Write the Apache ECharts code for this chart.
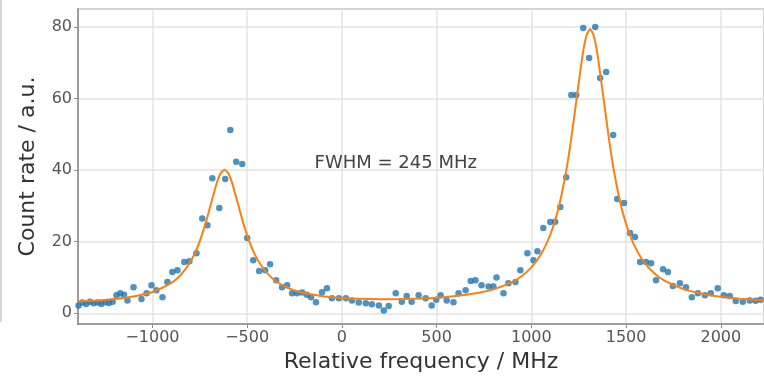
<!DOCTYPE html>
<html>
<head>
<meta charset="utf-8">
<script src="https://cdn.jsdelivr.net/npm/echarts@6/dist/echarts.min.js"></script>
<style>
html,body{margin:0;padding:0;background:#fff;}
#c{width:764px;height:379px;}
</style>
</head>
<body>
<div id="c"></div>
<script>
// measured data (MHz, a.u.)
var freqs = [-1390,-1370,-1350,-1330,-1310,-1290,-1270,-1250,-1230,-1210,-1190,-1170,-1150,-1132,-1100,-1058,-1031,-1005,-979,-947,-921,-895,-868,-832,-805,-768,-737,-710,-684,-647,-616,-589,-558,-526,-500,-468,-437,-405,-379,-347,-316,-289,-263,-237,-210,-185,-163,-137,-105,-79,-53,-16,21,53,89,126,158,195,221,247,284,316,342,368,405,442,474,498,521,553,589,616,653,680,705,737,774,800,816,853,879,916,942,979,1011,1032,1063,1100,1126,1153,1184,1211,1237,1274,1305,1337,1363,1395,1432,1453,1489,1521,1547,1574,1605,1632,1658,1695,1721,1747,1784,1816,1847,1879,1916,1947,1984,2016,2047,2079,2116,2153,2184,2210];
var counts = [2.2,3.0,2.6,3.2,2.8,3.0,2.6,3.1,2.9,3.2,5.0,5.6,5.2,3.6,7.3,4.0,5.6,7.8,6.4,4.5,8.7,11.5,12.0,14.3,14.5,16.8,26.5,24.6,37.7,29.4,37.5,51.2,42.3,41.7,21.0,14.8,11.8,12.0,13.7,9.2,7.3,7.8,5.6,5.6,5.8,5.2,4.5,3.1,5.9,7.0,4.2,4.2,4.2,3.6,3.0,2.8,2.5,2.2,0.8,2.0,5.6,3.2,4.8,3.2,5.0,4.2,2.2,3.8,5.0,3.6,3.1,5.6,6.4,9.0,9.2,7.8,7.5,7.5,10.0,5.6,8.4,8.7,12.0,16.8,14.8,17.3,23.8,25.5,25.6,29.7,38.0,61.0,61.0,79.7,71.3,80.0,65.7,67.4,49.8,31.9,30.8,22.4,21.3,14.3,14.3,14.0,9.2,12.3,11.5,7.6,8.4,7.3,4.5,5.6,5.0,5.6,7.0,5.0,4.8,3.4,3.2,3.6,3.5,3.8];
// fitted curve
var fitFreqs = [-1400,-1300,-1200,-1100,-1000,-900,-850,-800,-760,-720,-690,-660,-640,-620,-600,-580,-550,-520,-490,-460,-420,-380,-340,-300,-250,-200,-100,0,100,200,300,400,500,600,700,800,900,950,1000,1050,1100,1140,1180,1210,1240,1270,1290,1310,1330,1350,1380,1410,1440,1480,1520,1560,1600,1650,1700,1800,1900,2000,2100,2230];
var fitCounts = [3.26,3.55,3.99,4.70,5.95,8.47,10.75,14.36,18.76,25.04,30.82,36.46,39.1,40.1,39.13,36.49,30.85,25.09,20.22,16.45,12.84,10.37,8.66,7.45,6.38,5.65,4.75,4.27,4.03,3.94,3.96,4.09,4.34,4.8,5.5,6.68,8.75,10.4,12.8,16.4,21.93,28.7,38.6,48.6,60.4,72.0,77.4,79.4,77.4,72.0,60.4,48.6,38.55,28.64,21.87,17.22,13.96,11.14,9.2,6.8,5.45,4.62,4.07,3.6];
var annotText = 'FWHM = 245 MHz';
var annotAt = [-144, 42];

var chart = echarts.init(document.getElementById('c'), null, {renderer: 'canvas'});
var pts = freqs.map(function (f, i) { return [f, counts[i]]; });
var fit = fitFreqs.map(function (f, i) { return [f, fitCounts[i]]; });
var labelFont = {fontFamily: 'DejaVu Sans', fontSize: 16, color: '#555'};
chart.setOption({
  animation: false,
  backgroundColor: '#fff',
  grid: {left: 78, right: -2, top: 9, bottom: 55, show: true, borderColor: '#8c8c8c', borderWidth: 1.5, containLabel: false},
  xAxis: {
    type: 'value', min: -1393, max: 2228, splitNumber: 7, minInterval: 500, maxInterval: 500,
    name: 'Relative frequency / MHz', nameLocation: 'middle', nameGap: 25,
    nameTextStyle: {fontFamily: 'DejaVu Sans', fontSize: 22, color: '#333'},
    axisLine: {show: true, onZero: false, lineStyle: {color: '#8c8c8c', width: 1.5}},
    axisTick: {show: true, length: 4, inside: false, lineStyle: {color: '#8c8c8c'}},
    axisLabel: Object.assign({margin: 6, showMinLabel: false, showMaxLabel: false,
      formatter: function (v) { return v < 0 ? '\u2212' + Math.abs(v) : String(v); }}, labelFont),
    splitLine: {show: true, lineStyle: {color: '#e3e3e3', width: 1.5}}
  },
  yAxis: {
    type: 'value', min: -3, max: 85, splitNumber: 4, minInterval: 20, maxInterval: 20,
    name: 'Count rate / a.u.', nameLocation: 'middle', nameGap: 39,
    nameTextStyle: {fontFamily: 'DejaVu Sans', fontSize: 22, color: '#333'},
    axisLine: {show: true, onZero: false, lineStyle: {color: '#8c8c8c', width: 1.5}},
    axisTick: {show: true, length: 4, lineStyle: {color: '#8c8c8c'}},
    axisLabel: Object.assign({margin: 6, showMinLabel: false, showMaxLabel: false}, labelFont),
    splitLine: {show: true, lineStyle: {color: '#e3e3e3', width: 1.5}}
  },
  graphic: [{type: 'line', shape: {x1: 1, y1: 0, x2: 1, y2: 322}, style: {stroke: '#c8c8c8', lineWidth: 1.5}, silent: true}],
  series: [
    {
      type: 'scatter', data: pts, symbol: 'circle', symbolSize: 6.5,
      itemStyle: {color: '#1f77b4'}, z: 2, clip: true
    },
    {
      type: 'line', data: fit, showSymbol: false, symbol: 'none', smooth: 0.2,
      lineStyle: {color: '#ff7f0e', width: 2}, z: 3, clip: true,
      markPoint: {
        symbol: 'circle', symbolSize: 0,
        data: [{coord: annotAt, value: annotText}],
        label: {show: true, position: 'right', distance: 0, formatter: annotText,
          fontFamily: 'DejaVu Sans', fontSize: 18, color: '#444'}
      }
    }
  ]
});
</script>
</body>
</html>
